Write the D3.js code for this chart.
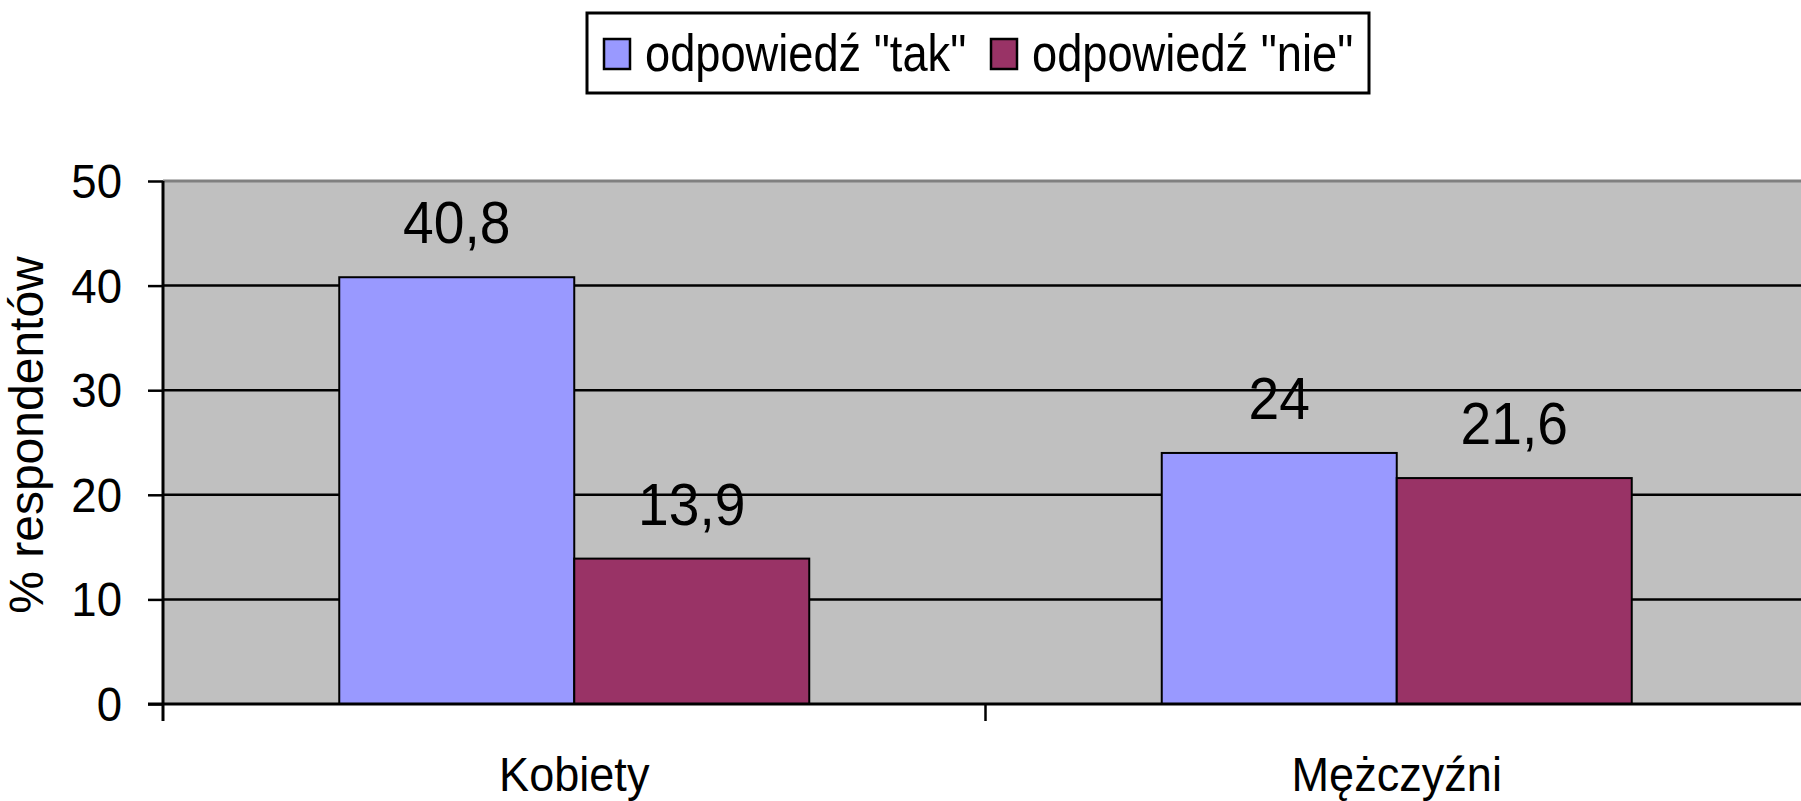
<!DOCTYPE html>
<html>
<head>
<meta charset="utf-8">
<script src="https://cdn.jsdelivr.net/npm/d3@7"></script>
<style>
    body { margin: 0; background: #fff; }
    svg { display: block; font-family: "Liberation Sans", Arial, sans-serif; }
</style>
</head>
<body>
<svg width="1801" height="801"></svg>
<script>
// data
const categories = ['Kobiety', 'Mężczyźni'];
const seriesNames = ['odpowiedź "tak"', 'odpowiedź "nie"'];
const takValues = [40.8, 24];
const nieValues = [13.9, 21.6];
const yTicks = [0, 10, 20, 30, 40, 50];

const colors = ['#9999FF', '#993366'];

const width = 1801;
const height = 801;
const svg = d3.select('svg');

const plot = { left: 163, top: 181, bottom: 704, right: 1808 };

const data = categories.map((c, i) => ({
    name: c,
    values: [
        { series: seriesNames[0], value: takValues[i] },
        { series: seriesNames[1], value: nieValues[i] }
    ]
}));

let yScale = d3.scaleLinear()
    .domain([0, 50])
    .range([plot.bottom, plot.top]);

let xScale = d3.scaleBand()
    .domain(categories)
    .range([plot.left, plot.right])
    .padding(0);

// excel style gap width 150%
const barWidth = xScale.bandwidth() / 3.5;
let xInner = d3.scaleBand()
    .domain(seriesNames)
    .range([0, barWidth * 2]);
const groupOffset = (xScale.bandwidth() - barWidth * 2) / 2;

// condensed text helper
function label(g, x, y, txt, size, anchor, sx) {
    return g.append('text')
        .attr('transform', `translate(${x},${y}) scale(${sx || 0.9},1)`)
        .attr('text-anchor', anchor || 'middle')
        .attr('font-size', size)
        .attr('fill', '#000')
        .text(txt);
}

// plot background
svg.append('rect')
    .attr('x', plot.left)
    .attr('y', plot.top)
    .attr('width', plot.right - plot.left)
    .attr('height', plot.bottom - plot.top)
    .attr('fill', '#C0C0C0');

// gridlines
svg.append('g')
    .selectAll('line')
    .data(yTicks.filter(t => t > 0 && t < 50))
    .enter().append('line')
    .attr('x1', plot.left)
    .attr('x2', plot.right)
    .attr('y1', d => yScale(d))
    .attr('y2', d => yScale(d))
    .attr('stroke', '#000')
    .attr('stroke-width', 2.5);

// top border of plot area
svg.append('line')
    .attr('x1', plot.left)
    .attr('x2', plot.right)
    .attr('y1', plot.top)
    .attr('y2', plot.top)
    .attr('stroke', '#808080')
    .attr('stroke-width', 3);

// bars
let groups = svg.append('g')
    .selectAll('g')
    .data(data)
    .enter().append('g')
    .attr('transform', d => `translate(${xScale(d.name) + groupOffset},0)`);

groups.selectAll('rect')
    .data(d => d.values)
    .enter().append('rect')
    .attr('x', d => xInner(d.series))
    .attr('y', d => yScale(d.value))
    .attr('width', xInner.bandwidth())
    .attr('height', d => yScale(0) - yScale(d.value))
    .attr('fill', (d, i) => colors[i])
    .attr('stroke', '#000')
    .attr('stroke-width', 2);

// value labels
groups.each(function (d) {
    const g = d3.select(this);
    d.values.forEach(v => {
        label(g, xInner(v.series) + xInner.bandwidth() / 2, yScale(v.value) - 34,
            String(v.value).replace('.', ','), 60, 'middle', 0.92);
    });
});

// y axis
let yAxis = g => g
    .attr('transform', `translate(${plot.left},0)`)
    .call(d3.axisLeft(yScale).tickValues(yTicks).tickSize(15).tickFormat(''))
    .call(g => g.select('.domain').remove())
    .call(g => g.selectAll('.tick line').attr('stroke', '#000').attr('stroke-width', 2.5));

svg.append('g').call(yAxis);

svg.append('line')
    .attr('x1', plot.left).attr('x2', plot.left)
    .attr('y1', plot.top).attr('y2', plot.bottom + 17)
    .attr('stroke', '#000')
    .attr('stroke-width', 3);

yTicks.forEach(t => {
    label(svg, 122, yScale(t) + 17, t, 48, 'end', 0.95);
});

// x axis
svg.append('line')
    .attr('x1', plot.left - 15).attr('x2', plot.right)
    .attr('y1', plot.bottom).attr('y2', plot.bottom)
    .attr('stroke', '#000')
    .attr('stroke-width', 3);

svg.append('g')
    .selectAll('line')
    .data(categories.slice(1))
    .enter().append('line')
    .attr('x1', d => xScale(d))
    .attr('x2', d => xScale(d))
    .attr('y1', plot.bottom)
    .attr('y2', plot.bottom + 17)
    .attr('stroke', '#000')
    .attr('stroke-width', 2.5);

categories.forEach(c => {
    label(svg, xScale(c) + xScale.bandwidth() / 2, 791, c, 49, 'middle', 0.92);
});

// y axis title
svg.append('text')
    .attr('transform', 'translate(43,435) rotate(-90)')
    .attr('text-anchor', 'middle')
    .attr('font-size', 48)
    .text('% respondentów');

// legend
const legend = svg.append('g');
legend.append('rect')
    .attr('x', 587)
    .attr('y', 13)
    .attr('width', 782)
    .attr('height', 80)
    .attr('fill', '#fff')
    .attr('stroke', '#000')
    .attr('stroke-width', 3);

const legendX = [604, 991];
seriesNames.forEach((s, i) => {
    legend.append('rect')
        .attr('x', legendX[i])
        .attr('y', 39)
        .attr('width', 26)
        .attr('height', 30)
        .attr('fill', colors[i])
        .attr('stroke', '#000')
        .attr('stroke-width', 2.5);
    label(legend, legendX[i] + 41, 71, s, 52, 'start', 0.87);
});
</script>
</body>
</html>
